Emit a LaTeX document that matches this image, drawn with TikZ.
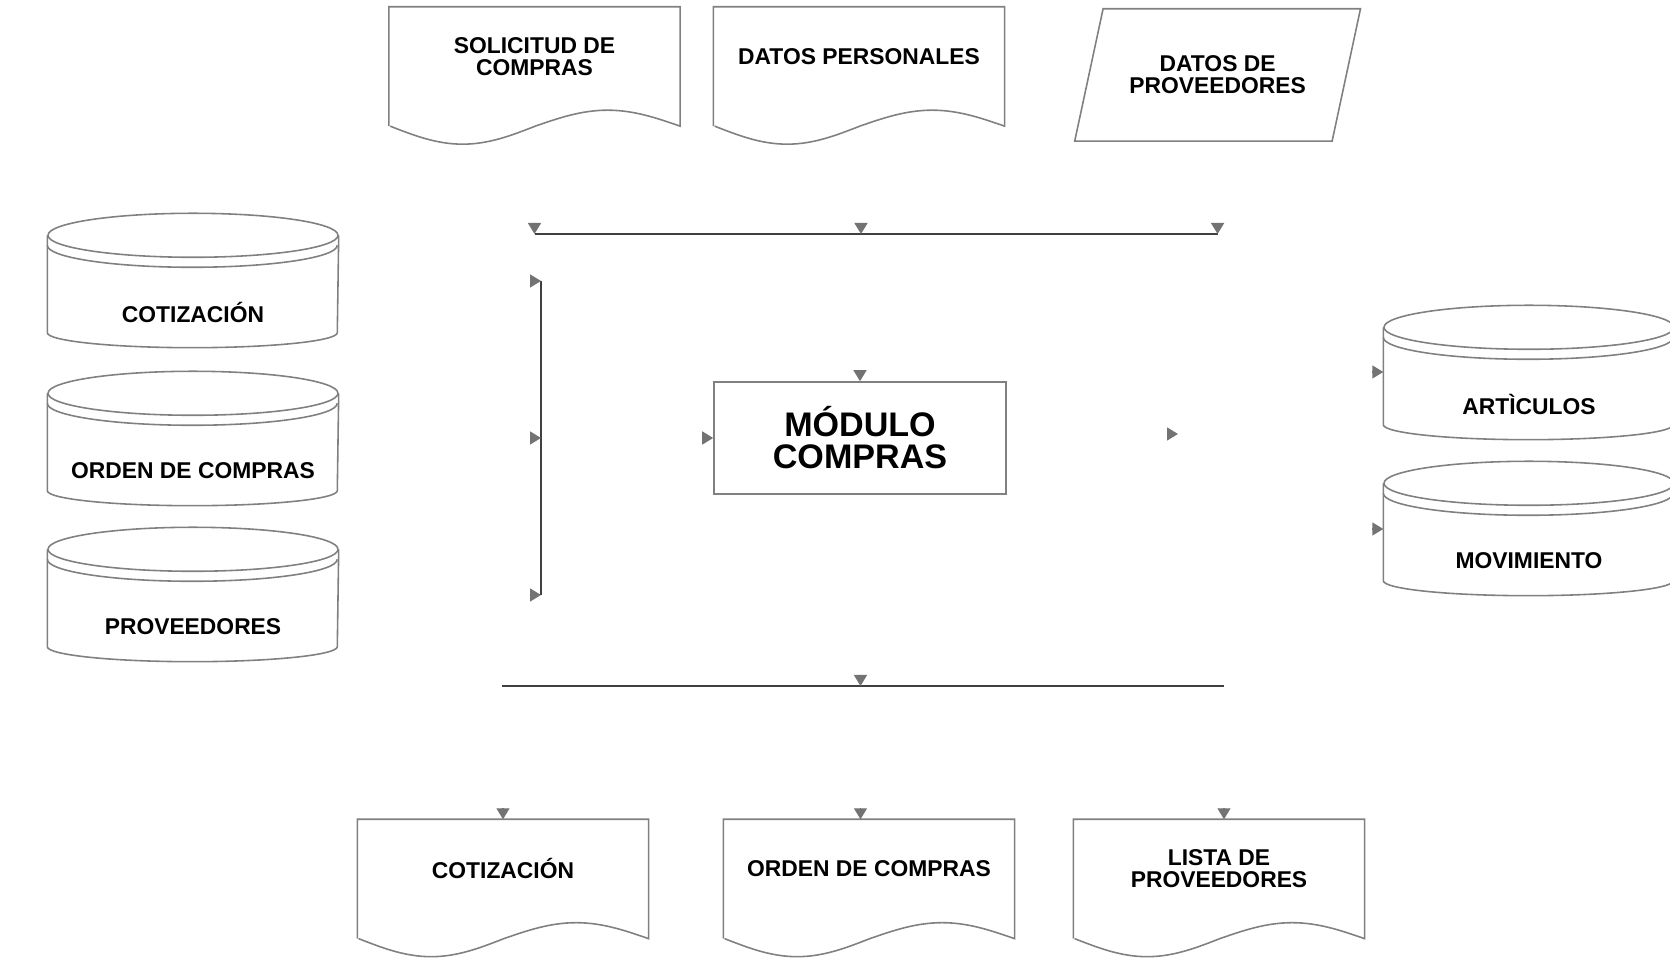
\documentclass[tikz,border=0pt]{standalone}
\usepackage{fontspec}
\setmainfont{Liberation Sans}
\usetikzlibrary{arrows.meta}

% sheet outline with the wavy lower edge
\newcommand{\sheet}[1]{%
  \draw[shp] (#1.south west) -- (#1.north west) -- (#1.north east) -- (#1.south east)
    sin +(-0.725,0.16) cos +(-0.725,-0.16) sin +(-0.725,-0.18) cos +(-0.725,0.18);}
% data store outline (disk with a double rim)
\newcommand{\disk}[1]{%
  \draw[shp] (#1.north) ellipse [x radius=1.45, y radius=0.22];
  \draw[shp] ([yshift=-1mm]#1.north west) arc [start angle=180, end angle=360, x radius=1.45, y radius=0.22];
  \draw[shp] (#1.north west) -- (#1.south west) arc [start angle=180, end angle=360, x radius=1.45, y radius=0.15] -- (#1.north east);}

\begin{document}
\begin{tikzpicture}[
    font=\bfseries\fontsize{6.5}{6.2}\selectfont,
    shp/.style={draw=black!50, line width=0.45pt},
    sheetbox/.style={minimum width=2.9cm, minimum height=1.18cm, inner sep=0pt},
    diskbox/.style={minimum width=2.9cm, minimum height=0.96cm, inner sep=0pt},
    provbox/.style={minimum width=2.56cm, minimum height=1.31cm, inner sep=0pt, align=center},
    modbox/.style={shp, minimum width=2.92cm, minimum height=1.12cm, inner sep=0pt, align=center,
      font=\bfseries\fontsize{9.7}{9.1}\selectfont},
    lbl/.style={align=center, yshift=1mm},
    disklbl/.style={align=center, yshift=-2.85mm},
    bus/.style={draw=black!75, line width=0.8pt},
    tip/.style={-{Triangle[width=1.3mm, length=1.1mm]}, draw=black!55, fill=black!55, line width=0.4pt}
  ]

  \useasboundingbox (0, 0) rectangle (16.70, 9.79);

  % ---------------------------------------------------------
  % INPUTS (top row)
  % ---------------------------------------------------------
  \node[sheetbox, label={[lbl]center:SOLICITUD DE\\COMPRAS}] (solic) at (5.345, 9.125) {};
  \node[sheetbox, label={[lbl]center:DATOS PERSONALES}] (datper) at (8.59, 9.125) {};
  \node[provbox] (datprov) at (12.176, 9.04) {DATOS DE\\PROVEEDORES};
  \sheet{solic}
  \sheet{datper}
  \draw[shp] ([xshift=1.42mm]datprov.north west) -- ([xshift=1.42mm]datprov.north east)
    -- ([xshift=-1.42mm]datprov.south east) -- ([xshift=-1.42mm]datprov.south west) -- cycle;

  % input bus
  \coordinate (tbL) at (solic |- 0,7.45);
  \coordinate (tbM) at (8.61, 7.45);
  \coordinate (tbR) at (datprov |- 0,7.45);
  \draw[bus] (tbL) -- (tbR);
  \foreach \c in {tbL, tbM, tbR}
    \draw[tip] ([yshift=1.1mm]\c) -- (\c);

  % ---------------------------------------------------------
  % DATA STORES (left)
  % ---------------------------------------------------------
  \node[diskbox, label={[disklbl]center:COTIZACIÓN}] (dcot) at (1.93, 6.95) {};
  \node[diskbox, label={[disklbl]center:ORDEN DE COMPRAS}] (dord) at (1.93, 5.37) {};
  \node[diskbox, label={[disklbl]center:PROVEEDORES}] (dprv) at (1.93, 3.81) {};
  \disk{dcot}
  \disk{dord}
  \disk{dprv}

  % collector bracket
  \coordinate (brk1) at (5.41, 6.98);
  \coordinate (brk2) at (5.41, 5.41);
  \coordinate (brk3) at (5.41, 3.84);
  \draw[bus, line width=0.6pt] (brk1) -- (brk3);
  \foreach \c in {brk1, brk2, brk3}
    \draw[tip] ([xshift=-1.1mm]\c) -- (\c);

  % ---------------------------------------------------------
  % PROCESS
  % ---------------------------------------------------------
  \node[modbox] (modulo) at (8.60, 5.41) {MÓDULO\\COMPRAS};
  \draw[tip] ([yshift=1.1mm]modulo.north) -- (modulo.north);
  \draw[tip] ([xshift=-1.1mm]modulo.west) -- (modulo.west);

  \coordinate (modout) at (11.78, 5.45);
  \draw[tip] ([xshift=-1.1mm]modout) -- (modout);

  % ---------------------------------------------------------
  % DATA STORES (right)
  % ---------------------------------------------------------
  \node[diskbox, label={[disklbl]center:ARTÌCULOS}] (dart) at (15.29, 6.03) {};
  \node[diskbox, label={[disklbl]center:MOVIMIENTO}] (dmov) at (15.29, 4.47) {};
  \disk{dart}
  \disk{dmov}
  \draw[tip] ([xshift=-1.1mm, yshift=0.4mm]dart.west) -- ([yshift=0.4mm]dart.west);
  \draw[tip] ([xshift=-1.1mm, yshift=0.3mm]dmov.west) -- ([yshift=0.3mm]dmov.west);

  % ---------------------------------------------------------
  % OUTPUTS (bottom row)
  % ---------------------------------------------------------
  \coordinate (bbL) at (5.02, 2.93);
  \coordinate (bbM) at (8.605, 2.93);
  \coordinate (bbR) at (12.24, 2.93);
  \draw[bus] (bbL) -- (bbR);
  \draw[tip] ([yshift=1.1mm]bbM) -- (bbM);

  \node[sheetbox, label={[lbl]center:COTIZACIÓN}] (cotdoc) at (5.03, 1.00) {};
  \node[sheetbox, label={[lbl]center:ORDEN DE COMPRAS}] (orddoc) at (8.69, 1.00) {};
  \node[sheetbox, label={[lbl]center:LISTA DE\\PROVEEDORES}] (lisdoc) at (12.19, 1.00) {};
  \sheet{cotdoc}
  \sheet{orddoc}
  \sheet{lisdoc}
  \draw[tip] ([yshift=1.1mm]cotdoc.north) -- (cotdoc.north);
  \draw[tip] ([xshift=-0.85mm, yshift=1.1mm]orddoc.north) -- ([xshift=-0.85mm]orddoc.north);
  \draw[tip] ([xshift=0.5mm, yshift=1.1mm]lisdoc.north) -- ([xshift=0.5mm]lisdoc.north);

\end{tikzpicture}
\end{document}
